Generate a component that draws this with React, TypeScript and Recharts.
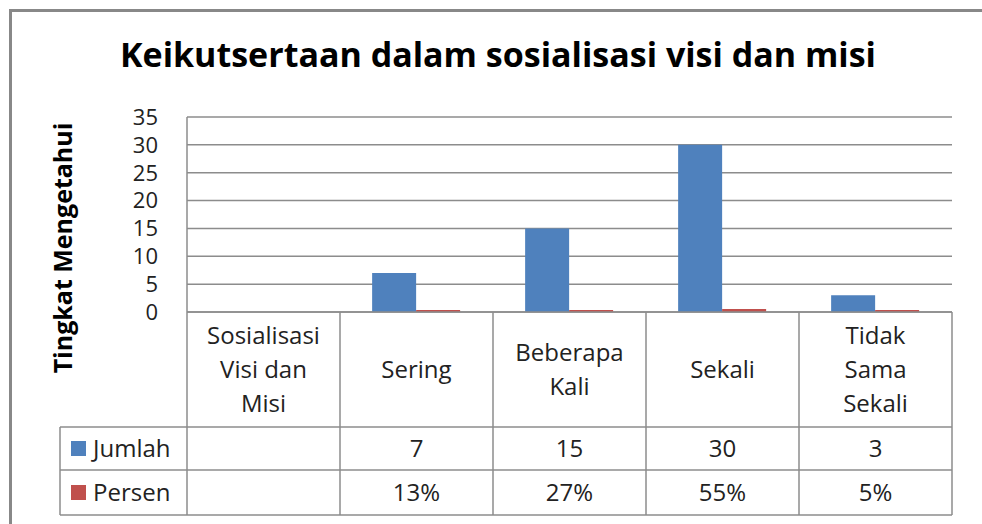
import { BarChart, Bar, XAxis, YAxis, CartesianGrid } from 'recharts';

const categories = ['Sosialisasi\nVisi dan\nMisi', 'Sering', 'Beberapa\nKali', 'Sekali', 'Tidak\nSama\nSekali'];
const jumlah = [null, 7, 15, 30, 3];
const persen = [null, 0.13, 0.27, 0.55, 0.05];
const persenLabels = ['', '13%', '27%', '55%', '5%'];
const yTicks = [0, 5, 10, 15, 20, 25, 30, 35];

const data = categories.map((name, i) => ({
	name,
	Jumlah: jumlah[i],
	Persen: persen[i],
}));

const W = 982;
const H = 524;
const PLOT_LEFT = 187;
const PLOT_RIGHT = 952;
const PLOT_TOP = 117;
const PLOT_BOTTOM = 312;
const ROW1 = 427;
const ROW2 = 470;
const ROW3 = 515;
const TABLE_LEFT = 60;
const GRID = '#8c8c8c';
const BLUE = '#4F81BD';
const RED = '#C0504D';
const FONT = '"Open Sans", sans-serif';

const band = (PLOT_RIGHT - PLOT_LEFT) / categories.length;

function TableTick(props: any) {
	const { x, payload } = props;
	const i = payload.index;
	const lines = String(payload.value).split('\n');
	const mid = (PLOT_BOTTOM + ROW1) / 2;
	const lh = 34;
	const start = mid - ((lines.length - 1) * lh) / 2;
	const right = x + band / 2;
	return (
		<g>
			<line x1={right} x2={right} y1={PLOT_BOTTOM} y2={ROW3} stroke={GRID} strokeWidth={1.5} />
			{lines.map((l, k) => (
				<text key={k} x={x} y={start + k * lh} dy="0.35em" textAnchor="middle" fontSize={24} fill="#222" fontFamily={FONT}>
					{l}
				</text>
			))}
			<text x={x} y={(ROW1 + ROW2) / 2} dy="0.35em" textAnchor="middle" fontSize={24} fill="#222" fontFamily={FONT}>
				{jumlah[i] ?? ''}
			</text>
			<text x={x} y={(ROW2 + ROW3) / 2} dy="0.35em" textAnchor="middle" fontSize={24} fill="#222" fontFamily={FONT}>
				{persenLabels[i]}
			</text>
		</g>
	);
}

export default function App() {
	return (
		<div style={{ position: 'absolute', left: 0, top: 0, width: W, height: H, background: '#fff' }}>
			<BarChart
				width={W}
				height={H}
				data={data}
				margin={{ top: PLOT_TOP, right: W - PLOT_RIGHT, bottom: H - PLOT_BOTTOM - 203, left: PLOT_LEFT - 60 }}
				barCategoryGap="21%"
				barGap={0}
			>
				<CartesianGrid vertical={false} stroke={GRID} strokeWidth={1.5} />
				<XAxis
					dataKey="name"
					height={203}
					interval={0}
					tickLine={false}
					axisLine={{ stroke: GRID, strokeWidth: 1.5 }}
					tick={<TableTick />}
				/>
				<YAxis
					width={60}
					domain={[0, 35]}
					ticks={yTicks}
					interval={0}
					tickLine={false}
					tickSize={0}
					tickMargin={29}
					axisLine={{ stroke: GRID, strokeWidth: 1.5 }}
					tick={{ fontSize: 22, fill: '#222', fontFamily: FONT }}
				/>
				<Bar dataKey="Jumlah" fill={BLUE} isAnimationActive={false} />
				<Bar dataKey="Persen" fill={RED} minPointSize={2} isAnimationActive={false} />
			</BarChart>
			<svg width={W} height={H} style={{ position: 'absolute', left: 0, top: 0, pointerEvents: 'none' }}>
				<line x1={9} x2={W} y1={10.5} y2={10.5} stroke="#888" strokeWidth={3} />
				<line x1={10.5} x2={10.5} y1={9} y2={H} stroke="#888" strokeWidth={3} />
				<text x={498} y={67} textAnchor="middle" fontSize={34} fontWeight="bold" fill="#000" fontFamily={FONT}>
					Keikutsertaan dalam sosialisasi visi dan misi
				</text>
				<text
					x={0}
					y={0}
					transform={`translate(72, 248) rotate(-90)`}
					textAnchor="middle"
					fontSize={25}
					fontWeight="bold"
					fill="#000"
					fontFamily={FONT}
				>
					Tingkat Mengetahui
				</text>
				<line x1={PLOT_LEFT} x2={PLOT_LEFT} y1={PLOT_BOTTOM} y2={ROW3} stroke={GRID} strokeWidth={1.5} />
				<line x1={TABLE_LEFT} x2={TABLE_LEFT} y1={ROW1} y2={ROW3} stroke={GRID} strokeWidth={1.5} />
				{[ROW1, ROW2, ROW3].map((y) => (
					<line key={y} x1={TABLE_LEFT} x2={PLOT_RIGHT} y1={y} y2={y} stroke={GRID} strokeWidth={1.5} />
				))}
				<rect x={71} y={441} width={15} height={15} fill={BLUE} />
				<text x={93} y={(ROW1 + ROW2) / 2} dy="0.35em" fontSize={24} fill="#222" fontFamily={FONT}>
					Jumlah
				</text>
				<rect x={71} y={485} width={15} height={15} fill={RED} />
				<text x={93} y={(ROW2 + ROW3) / 2} dy="0.35em" fontSize={24} fill="#222" fontFamily={FONT}>
					Persen
				</text>
			</svg>
		</div>
	);
}
